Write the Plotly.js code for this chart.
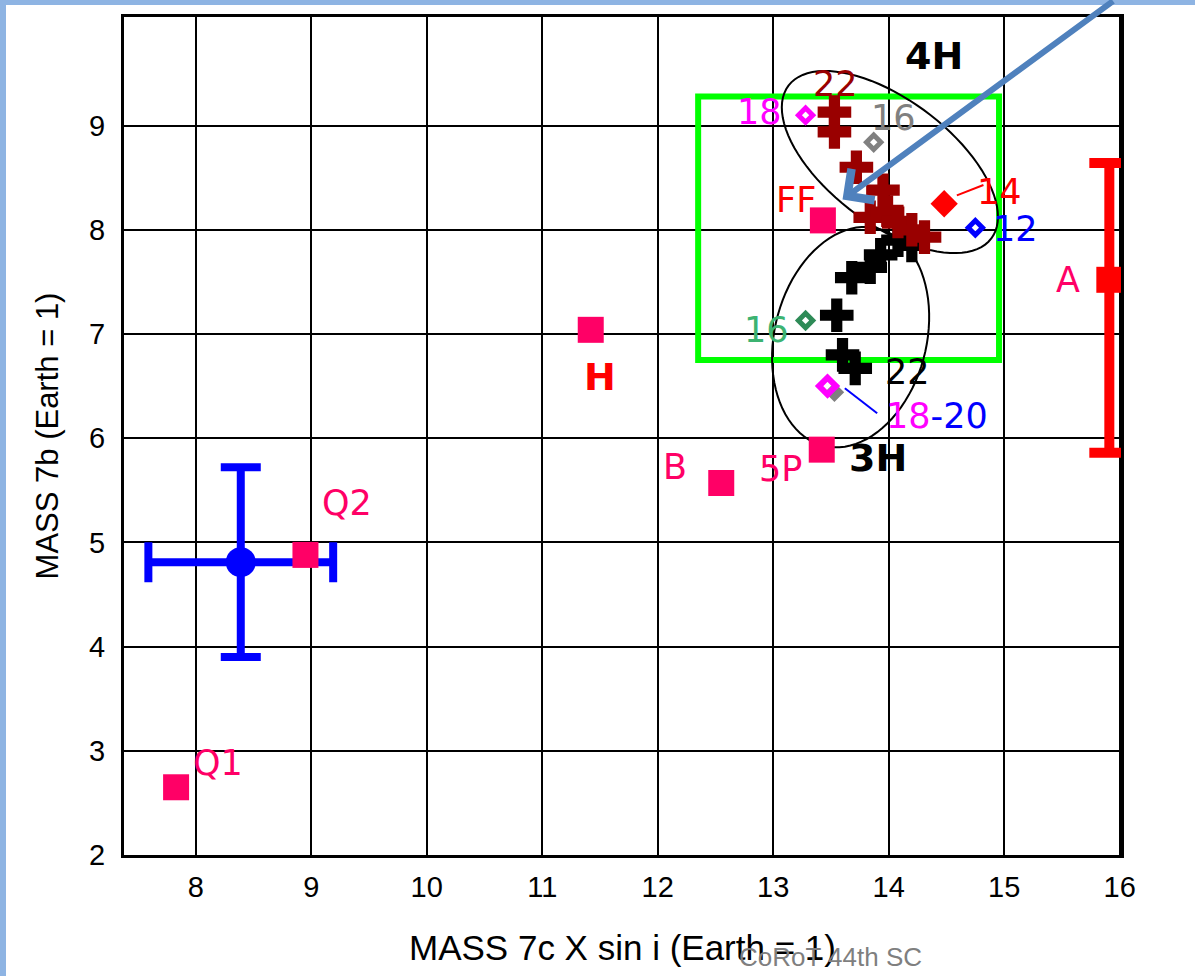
<!DOCTYPE html>
<html><head><meta charset="utf-8">
<script src="https://cdn.plot.ly/plotly-3.0.1.min.js"></script>
<style>html,body{margin:0;padding:0;background:#fff;overflow:hidden}#chart{width:1195px;height:976px}</style>
</head><body><div id="chart"></div>
<script>
// ---------- data ----------
const xTicks = [8, 9, 10, 11, 12, 13, 14, 15, 16];
const yTicks = [2, 3, 4, 5, 6, 7, 8, 9];

// pink squares (Q1, Q2, H, B/5P, 3H, FF)
const squareX = [7.83, 8.95, 11.42, 12.55, 13.42, 13.43];
const squareY = [2.65, 4.88, 7.04, 5.57, 5.89, 8.09];

// solution A with asymmetric error bar
const aX = [15.91], aY = [7.52], aErrPlus = [1.12], aErrMinus = [1.66];

// reference value (blue) with error bars
const refX = [8.39], refY = [4.81], refErrX = [0.80], refErrY = [0.91];

// 4H solutions (dark red crosses)
const darkRedX = [13.53, 13.53, 13.72, 13.95, 13.84, 13.99, 14.08, 14.20, 14.31];
const darkRedY = [9.13, 8.94, 8.60, 8.38, 8.12, 8.17, 8.08, 8.00, 7.93];

// 3H solutions (black crosses)
const blackX = [14.08, 14.20, 13.93, 13.84, 13.68, 13.55, 13.60, 13.71];
const blackY = [7.90, 7.85, 7.76, 7.64, 7.54, 7.18, 6.80, 6.67];

// small diamonds
const mag18X = [13.28], mag18Y = [9.10];
const gray16X = [13.87], gray16Y = [8.84];
const red14X = [14.48], red14Y = [8.25];
const blue12X = [14.75], blue12Y = [8.02];
const green16X = [13.28], green16Y = [7.13];
const gray1820X = [13.53], gray1820Y = [6.44];
const mag1820X = [13.47], mag1820Y = [6.50];

// leader lines
const red14LineX = [14.59, 14.82], red14LineY = [8.33, 8.43];
const blue1820LineX = [13.62, 13.90], blue1820LineY = [6.48, 6.24];

// green box
const boxX = [12.35, 14.955], boxY = [6.75, 9.28];

// ellipses: [centre x, centre y, semi-major px, semi-minor px, angle deg]
const ellipse4H = [14.01, 8.65, 127, 62, -37];
const ellipse3H = [13.67, 6.97, 112, 76, 76];

// labels: text, x, y, colour, bold
const labelText = ['22', '4H', '18', '16', 'FF', '14', '12', 'A', 'H', 'B', '5P', '3H', 'Q2', 'Q1', '16', '22'];
const labelX = [13.535, 14.39, 12.88, 14.04, 13.195, 14.96, 15.10, 15.55, 11.50, 12.15, 13.06, 13.91, 9.31, 8.19, 12.94, 14.16];
const labelY = [9.40, 9.67, 9.13, 9.07, 8.29, 8.36, 8.01, 7.52, 6.59, 5.72, 5.70, 5.81, 5.38, 2.88, 7.04, 6.635];
const labelColor = ['#990000', '#000000', '#FF00FF', '#808080', '#FF0000', '#FF0000', '#0000FF', '#FF0066', '#FF0000', '#FF0066', '#FF0066', '#000000', '#FF0066', '#FF0066', '#3CB371', '#000000'];
const labelBold = [false, true, false, false, false, false, false, false, true, false, false, true, false, false, false, false];

// ---------- layout ----------
const M = {l: 124, r: 74, t: 17, b: 121};
const W = 1195, H = 976;
const plotW = W - M.l - M.r, plotH = H - M.t - M.b;
const xRange = [7.379, 16.011], yRange = [2, 10.042];
const sx = plotW / (xRange[1] - xRange[0]), sy = plotH / (yRange[1] - yRange[0]);

function ellipsePath(e) {
  const phi = e[4] * Math.PI / 180;
  let d = '';
  for (let i = 0; i <= 90; i++) {
    const t = i / 90 * 2 * Math.PI;
    const px = e[2] * Math.cos(t) * Math.cos(phi) - e[3] * Math.sin(t) * Math.sin(phi);
    const py = e[2] * Math.cos(t) * Math.sin(phi) + e[3] * Math.sin(t) * Math.cos(phi);
    d += (i ? 'L' : 'M') + (e[0] + px / sx).toFixed(4) + ',' + (e[1] + py / sy).toFixed(4);
  }
  return d + 'Z';
}

const crossSize = 28;
const openDiamond = (x, y, c) => ({
  x, y, type: 'scatter', mode: 'markers', hoverinfo: 'skip',
  marker: {symbol: 'diamond', size: 11, color: '#FFFFFF', line: {color: c, width: 5}}
});

const traces = [
  {x: blackX, y: blackY, type: 'scatter', mode: 'markers', hoverinfo: 'skip',
   marker: {symbol: 'cross', size: crossSize, color: '#000000', line: {width: 0}}},
  {x: darkRedX, y: darkRedY, type: 'scatter', mode: 'markers', hoverinfo: 'skip',
   marker: {symbol: 'cross', size: crossSize, color: '#990000', line: {width: 0}}},
  openDiamond(green16X, green16Y, '#2E8B57'),
  openDiamond(mag18X, mag18Y, '#FF00FF'),
  openDiamond(gray16X, gray16Y, '#808080'),
  openDiamond(blue12X, blue12Y, '#0000FF'),
  {x: red14LineX, y: red14LineY, type: 'scatter', mode: 'lines', hoverinfo: 'skip',
   line: {color: '#FF0000', width: 2}},
  {x: red14X, y: red14Y, type: 'scatter', mode: 'markers', hoverinfo: 'skip',
   marker: {symbol: 'diamond', size: 21, color: '#FF0000', line: {width: 0}}},
  {x: blue1820LineX, y: blue1820LineY, type: 'scatter', mode: 'lines', hoverinfo: 'skip',
   line: {color: '#0000FF', width: 2}},
  {x: gray1820X, y: gray1820Y, type: 'scatter', mode: 'markers', hoverinfo: 'skip',
   marker: {symbol: 'diamond', size: 15, color: '#808080', line: {width: 0}}},
  {x: mag1820X, y: mag1820Y, type: 'scatter', mode: 'markers', hoverinfo: 'skip',
   marker: {symbol: 'diamond-open', size: 13, color: '#FF00FF', line: {color: '#FF00FF', width: 6}}},
  {x: refX, y: refY, type: 'scatter', mode: 'markers', hoverinfo: 'skip',
   marker: {symbol: 'circle', size: 30, color: '#0000FF', line: {width: 0}},
   error_x: {type: 'data', array: refErrX, color: '#0000FF', thickness: 8, width: 20},
   error_y: {type: 'data', array: refErrY, color: '#0000FF', thickness: 8, width: 20}},
  {x: aX, y: aY, type: 'scatter', mode: 'markers', hoverinfo: 'skip',
   marker: {symbol: 'square', size: 26, color: '#FF0000', line: {width: 0}},
   error_y: {type: 'data', symmetric: false, array: aErrPlus, arrayminus: aErrMinus,
             color: '#FF0000', thickness: 10, width: 20}},
  {x: squareX, y: squareY, type: 'scatter', mode: 'markers', hoverinfo: 'skip',
   marker: {symbol: 'square', size: 26, color: '#FF0066', line: {width: 0}}}
];

const annotations = labelText.map((t, i) => ({
  x: labelX[i], y: labelY[i], xref: 'x', yref: 'y', showarrow: false,
  text: labelBold[i] ? '<b>' + t + '</b>' : t,
  xanchor: 'center', yanchor: 'middle',
  font: {family: 'DejaVu Sans, sans-serif', size: labelBold[i] ? 38 : 35, color: labelColor[i]}
}));
annotations.push({
  x: 14.42, y: 6.21, xref: 'x', yref: 'y', showarrow: false, xanchor: 'center', yanchor: 'middle',
  text: '<span style="color:#FF00FF">18</span><span style="color:#0000FF">-20</span>',
  font: {family: 'DejaVu Sans, sans-serif', size: 35, color: '#0000FF'}
});
// blue arrow
annotations.push({
  x: 13.60, y: 8.29, xref: 'x', yref: 'y', showarrow: true, text: '',
  ax: 272, ay: -206, axref: 'pixel', ayref: 'pixel',
  arrowhead: 4, arrowsize: 1.25, arrowwidth: 6, arrowcolor: '#4F81BD', standoff: 0
});
// footer
annotations.push({
  x: (830 - M.l) / plotW, y: (M.t + plotH - 957) / plotH, xref: 'paper', yref: 'paper',
  showarrow: false, text: 'CoRoT 44th SC', xanchor: 'center', yanchor: 'middle',
  font: {family: 'Liberation Sans, sans-serif', size: 26, color: '#7F7F7F'}
});

const px2paperX = p => (p - M.l) / plotW;
const px2paperY = p => (M.t + plotH - p) / plotH;

const shapes = [
  {type: 'rect', xref: 'x', yref: 'y', x0: boxX[0], x1: boxX[1], y0: boxY[0], y1: boxY[1],
   line: {color: '#00FF00', width: 6}, layer: 'between'},
  {type: 'path', xref: 'x', yref: 'y', path: ellipsePath(ellipse4H), line: {color: '#000000', width: 2}, layer: 'between'},
  {type: 'path', xref: 'x', yref: 'y', path: ellipsePath(ellipse3H), line: {color: '#000000', width: 2}, layer: 'between'},
  {type: 'rect', xref: 'paper', yref: 'paper', x0: px2paperX(0), x1: px2paperX(W), y0: px2paperY(5), y1: px2paperY(0),
   fillcolor: '#8EB4E3', line: {width: 0}},
  {type: 'rect', xref: 'paper', yref: 'paper', x0: px2paperX(0), x1: px2paperX(6), y0: px2paperY(H), y1: px2paperY(0),
   fillcolor: '#8EB4E3', line: {width: 0}}
];

const axisCommon = {
  showgrid: true, gridcolor: '#000000', gridwidth: 2,
  showline: true, mirror: true, linecolor: '#000000', linewidth: 3,
  zeroline: false, ticks: '', fixedrange: true,
  tickfont: {family: 'Liberation Sans, sans-serif', size: 29, color: '#000000'}
};

const layout = {
  width: W, height: H, margin: M, showlegend: false, hovermode: false,
  paper_bgcolor: '#FFFFFF', plot_bgcolor: '#FFFFFF',
  xaxis: Object.assign({}, axisCommon, {
    range: xRange, tickvals: xTicks, ticktext: xTicks.map(String), ticklabelstandoff: 4,
    title: {text: 'MASS 7c X sin i (Earth = 1)', standoff: 34,
            font: {family: 'Liberation Sans, Arial, sans-serif', size: 35, color: '#000000'}}
  }),
  yaxis: Object.assign({}, axisCommon, {
    range: yRange, tickvals: yTicks, ticktext: yTicks.map(String), ticklabelstandoff: 10,
    title: {text: 'MASS 7b (Earth = 1)', standoff: 22,
            font: {family: 'Liberation Sans, Arial, sans-serif', size: 31, color: '#000000'}}
  }),
  shapes, annotations
};

Plotly.newPlot('chart', traces, layout, {staticPlot: true, displayModeBar: false});
</script></body></html>
